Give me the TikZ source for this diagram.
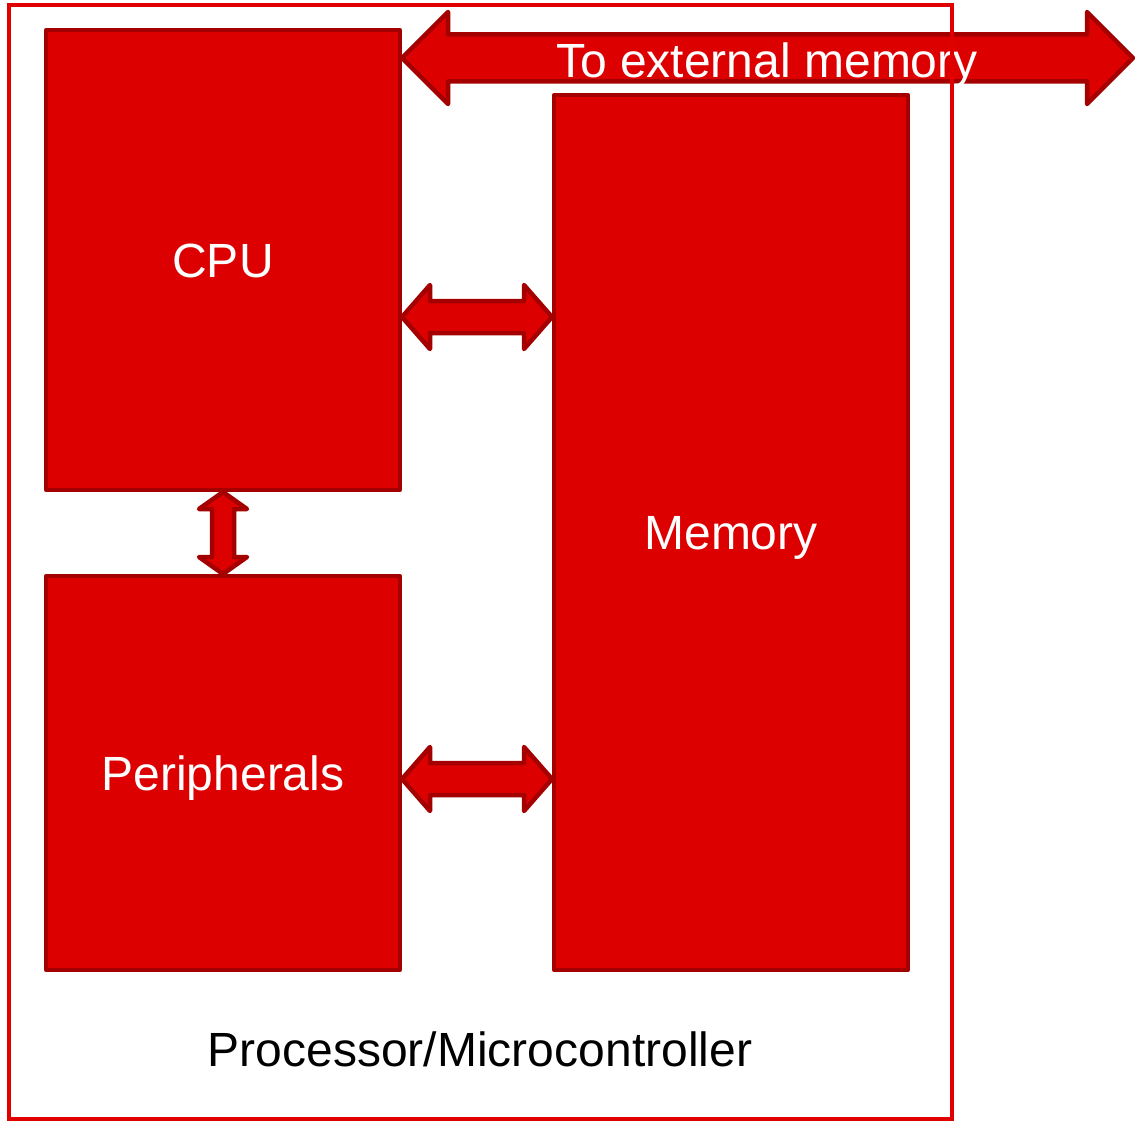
\documentclass[tikz,border=0pt]{standalone}
\usepackage{fontspec}
\setmainfont{Liberation Sans}
\usetikzlibrary{calc}

\definecolor{blockred}{HTML}{DD0000}
\definecolor{edgered}{HTML}{A50000}
\definecolor{framered}{HTML}{E00000}

\tikzset{
  bigtext/.style={font=\fontsize{48}{56}\selectfont, text height=34.5pt, text depth=0pt},
  block/.style={draw=edgered, fill=blockred, line width=4pt, line join=round,
    minimum width=354pt, text=white, bigtext, inner sep=0pt},
  arrowshape/.style={draw=edgered, fill=blockred, line width=4.5pt, line join=round},
  frame/.style={draw=framered, line width=4pt},
  caption/.style={text=black, bigtext, inner sep=0pt},
  buslabel/.style={text=white, bigtext, inner sep=0pt}
}

% double-headed horizontal block arrow: left tip, right tip, head length, head half-height, shaft half-height
\newcommand{\hdblarrow}[5]{%
  \draw[arrowshape] (#1) -- ++(#3,-#4) -- ++(0,#4-#5) -- ($(#2)+(-#3,-#5)$)
    -- ++(0,#5-#4) -- (#2) -- ++(-#3,#4) -- ++(0,#5-#4) -- ($(#1)+(#3,#5)$)
    -- ++(0,#4-#5) -- cycle;}
% double-headed vertical block arrow: top tip, bottom tip, head length, head half-width, shaft half-width
\newcommand{\vdblarrow}[5]{%
  \draw[arrowshape] (#1) -- ++(#4,#3) -- ++(#5-#4,0) -- ($(#2)+(#5,-#3)$)
    -- ++(#4-#5,0) -- (#2) -- ++(-#4,-#3) -- ++(#4-#5,0) -- ($(#1)+(-#5,#3)$)
    -- ++(#5-#4,0) -- cycle;}

\begin{document}
\begin{tikzpicture}[x=1pt, y=-1pt]
  \useasboundingbox (0,0) rectangle (1135,1121);

  % functional blocks
  \node[block, minimum height=460pt] (cpu) at (223,260) {CPU};
  \node[block, minimum height=394pt] (per) at (223,773) {Peripherals};
  \node[block, minimum height=875pt] (mem) at (731,532.5) {Memory};

  % internal buses
  \coordinate (cm1) at (cpu.east |- 0,317);
  \coordinate (cm2) at (mem.west |- 0,317);
  \hdblarrow{cm1}{cm2}{28}{32}{16}

  \coordinate (pm1) at (per.east |- 0,779);
  \coordinate (pm2) at (mem.west |- 0,779);
  \hdblarrow{pm1}{pm2}{28}{32}{16}

  \vdblarrow{cpu.south}{per.north}{17}{24}{11}

  % external memory bus
  \coordinate (ext1) at (cpu.east |- 0,58);
  \coordinate (ext2) at (1133,58);
  \hdblarrow{ext1}{ext2}{46}{46}{23.5}
  \node[buslabel] (extlabel) at (767,60) {To external memory};

  % chip boundary
  \draw[frame] (8.5,5) rectangle (952,1119);
  \node[caption] (chip) at (480,1049) {Processor/Microcontroller};
\end{tikzpicture}
\end{document}
